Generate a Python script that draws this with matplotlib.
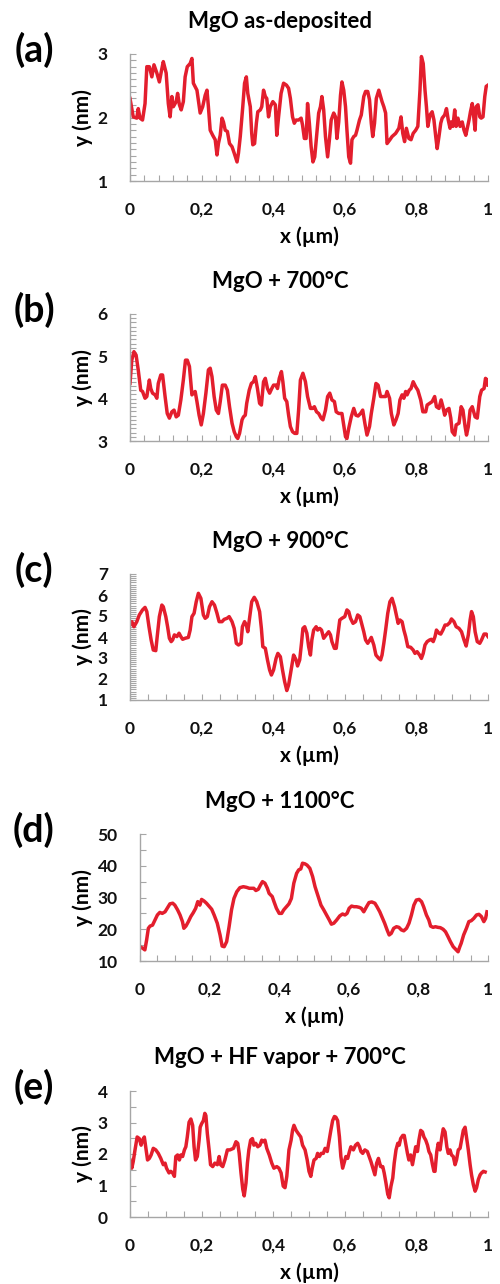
import numpy as np
import matplotlib.pyplot as plt
from matplotlib.ticker import MultipleLocator, FuncFormatter

# -------------------------------
# Profile data (x in µm, y in nm)
# -------------------------------
x_a = [0, .009, .019, .023, .028, .035, .042, .047, .054, .061, .067, .075, .082, .089, .093, .101,
       .107, .112, .117, .121, .129, .133, .138, .143, .149, .154, .160, .168, .173, .177, .187, .196,
       .203, .210, .215, .219, .224, .231, .238, .243, .247, .252, .257, .261, .266, .272, .278, .285,
       .291, .299, .303, .308, .315, .320, .325, .329, .336, .340, .343, .348, .353, .357, .364, .368,
       .373, .378, .382, .387, .392, .399, .406, .410, .415, .422, .429, .437, .443, .448, .454, .459,
       .464, .471, .478, .482, .487, .492, .496, .501, .506, .511, .516, .522, .527, .532, .536, .541,
       .546, .552, .557, .562, .569, .574, .578, .583, .588, .592, .597, .602, .606, .611, .616, .620,
       .625, .630, .634, .641, .646, .653, .658, .664, .669, .674, .678, .683, .688, .695, .700, .704,
       .709, .714, .718, .726, .732, .742, .751, .757, .762, .767, .772, .779, .785, .791, .798, .804,
       .810, .814, .819, .824, .828, .832, .838, .844, .849, .854, .858, .863, .868, .872, .879, .884,
       .889, .894, .897, .902, .907, .911, .916, .922, .928, .933, .938, .942, .947, .951, .956, .959,
       .964, .967, .972, .977, .981, .986, .991, .995, 1.0]
y_a = [2.30, 2.01, 1.99, 2.14, 1.99, 1.96, 2.22, 2.80, 2.80, 2.64, 2.83, 2.70, 2.56, 2.77, 2.88, 2.70,
       2.22, 2.01, 2.33, 2.17, 2.25, 2.38, 2.20, 2.12, 2.25, 2.64, 2.80, 2.85, 2.93, 2.54, 2.43, 2.07,
       2.17, 2.35, 2.43, 2.17, 1.80, 1.72, 1.65, 1.41, 1.59, 1.72, 1.99, 1.93, 1.80, 1.78, 1.59, 1.54,
       1.44, 1.30, 1.44, 1.70, 2.17, 2.54, 2.64, 2.38, 2.17, 1.75, 1.57, 1.59, 1.91, 2.09, 2.12, 2.17,
       2.43, 2.33, 2.30, 2.01, 2.17, 2.25, 2.20, 1.72, 2.01, 2.38, 2.54, 2.51, 2.46, 2.30, 2.01, 1.91,
       1.96, 1.96, 1.99, 1.88, 1.67, 1.67, 2.22, 1.91, 1.54, 1.30, 1.38, 1.75, 2.07, 2.17, 2.33, 2.12,
       1.70, 1.38, 1.65, 1.96, 2.07, 2.01, 1.67, 1.93, 2.35, 2.56, 2.43, 2.17, 1.80, 1.38, 1.28, 1.65,
       1.70, 1.72, 1.80, 1.96, 2.04, 2.33, 2.41, 2.41, 2.28, 1.91, 1.70, 1.91, 2.30, 2.43, 2.33, 2.25,
       2.17, 2.07, 1.59, 1.65, 1.70, 1.75, 1.83, 2.01, 1.75, 1.62, 1.83, 1.67, 1.65, 1.75, 1.80, 1.86,
       2.43, 2.96, 2.85, 2.43, 2.17, 1.86, 2.04, 2.09, 1.96, 1.70, 1.51, 1.70, 1.91, 1.99, 2.04, 2.14,
       1.96, 1.83, 1.93, 1.86, 2.12, 1.86, 1.99, 1.86, 1.93, 1.80, 1.72, 1.83, 1.96, 2.09, 2.22, 2.07,
       1.80, 2.17, 2.20, 2.01, 1.99, 2.01, 2.33, 2.49, 2.51]

x_b = [0, .005, .011, .017, .023, .030, .035, .042, .047, .051, .054, .058, .063, .070, .075, .079,
       .086, .091, .098, .104, .110, .117, .123, .129, .135, .142, .149, .155, .160, .166, .173, .177,
       .182, .187, .193, .199, .205, .212, .219, .224, .229, .235, .241, .247, .252, .258, .266, .272,
       .278, .285, .291, .297, .301, .306, .313, .317, .322, .326, .333, .339, .345, .350, .356, .362,
       .367, .373, .378, .384, .390, .396, .401, .408, .412, .417, .423, .427, .432, .438, .443, .448,
       .454, .460, .466, .471, .476, .483, .490, .496, .504, .510, .515, .521, .527, .534, .539, .546,
       .552, .558, .564, .571, .576, .583, .592, .602, .606, .611, .618, .625, .631, .637, .644, .650,
       .656, .662, .669, .674, .681, .687, .693, .700, .706, .714, .718, .725, .730, .737, .743, .749,
       .754, .760, .765, .770, .774, .780, .785, .791, .798, .804, .812, .818, .826, .830, .837, .844,
       .851, .856, .863, .869, .874, .879, .884, .891, .896, .900, .907, .911, .919, .925, .930, .936,
       .940, .945, .950, .956, .964, .970, .977, .982, .989, .993, .998, 1.0]
y_b = [4.36, 4.91, 5.11, 5.03, 4.68, 4.20, 4.17, 4.01, 4.05, 4.28, 4.44, 4.24, 4.13, 4.09, 4.01, 4.36,
       4.56, 4.56, 4.05, 3.65, 3.54, 3.69, 3.73, 3.57, 3.61, 3.97, 4.44, 4.91, 4.91, 4.76, 4.09, 4.13,
       4.17, 3.93, 3.61, 3.38, 3.65, 4.13, 4.68, 4.72, 4.52, 4.05, 3.73, 3.65, 3.93, 4.32, 4.32, 4.20,
       3.81, 3.42, 3.22, 3.10, 3.06, 3.18, 3.50, 3.57, 3.61, 3.89, 4.20, 4.36, 4.40, 4.52, 4.24, 3.89,
       3.85, 4.40, 4.48, 4.24, 4.13, 4.24, 4.32, 4.32, 4.24, 4.48, 4.64, 4.40, 4.01, 3.93, 3.61, 3.34,
       3.22, 3.18, 3.18, 3.73, 4.44, 4.60, 4.40, 4.05, 3.77, 3.77, 3.81, 3.69, 3.65, 3.54, 3.50, 3.73,
       4.05, 4.13, 3.97, 3.93, 3.69, 3.65, 3.65, 3.10, 3.06, 3.30, 3.57, 3.77, 3.61, 3.59, 3.65, 3.73,
       3.42, 3.14, 3.34, 3.65, 4.01, 4.36, 4.32, 4.05, 4.05, 4.05, 4.17, 4.01, 3.65, 3.38, 3.50, 3.65,
       3.97, 4.09, 4.01, 4.17, 4.09, 4.20, 4.24, 4.40, 4.28, 4.20, 3.97, 3.69, 3.69, 3.85, 3.89, 3.93,
       4.05, 3.81, 3.77, 3.97, 3.81, 3.61, 3.73, 3.77, 3.54, 3.22, 3.14, 3.38, 3.42, 3.81, 3.73, 3.34,
       3.14, 3.34, 3.73, 3.81, 3.57, 3.54, 4.05, 4.20, 4.24, 4.48, 4.44, 4.32]

x_c = [0, .005, .011, .019, .026, .035, .042, .047, .053, .059, .065, .072, .076, .082, .089, .093,
       .100, .105, .110, .115, .119, .124, .131, .137, .142, .147, .154, .163, .168, .173, .179, .185,
       .191, .198, .205, .210, .216, .222, .229, .236, .243, .249, .257, .263, .271, .277, .285, .291,
       .297, .303, .310, .314, .320, .325, .329, .334, .340, .347, .354, .362, .367, .371, .378, .384,
       .390, .395, .401, .408, .413, .420, .426, .432, .438, .443, .450, .457, .464, .468, .474, .479,
       .483, .488, .494, .499, .504, .508, .513, .520, .524, .530, .535, .541, .548, .555, .560, .564,
       .571, .576, .580, .586, .592, .600, .606, .611, .616, .623, .630, .636, .642, .648, .653, .658,
       .664, .670, .674, .681, .687, .695, .700, .704, .709, .714, .720, .726, .732, .739, .744, .749,
       .754, .760, .765, .770, .776, .784, .791, .796, .802, .809, .814, .819, .824, .830, .837, .842,
       .847, .852, .856, .863, .868, .874, .880, .886, .893, .898, .905, .911, .919, .926, .933, .939,
       .945, .950, .954, .959, .964, .970, .977, .982, .989, .995, 1.0]
y_c = [4.57, 4.73, 4.49, 4.73, 5.05, 5.29, 5.41, 5.21, 4.49, 3.86, 3.38, 3.35, 4.02, 4.97, 5.52, 5.44,
       4.97, 4.49, 3.94, 3.78, 3.86, 4.10, 4.02, 4.18, 4.02, 3.89, 3.94, 3.98, 4.33, 4.97, 5.13, 5.68,
       6.08, 5.84, 5.05, 4.89, 4.97, 5.44, 5.68, 5.52, 5.13, 4.73, 4.73, 4.84, 4.89, 4.97, 4.73, 4.41,
       3.70, 3.62, 3.70, 4.49, 4.73, 4.57, 4.25, 4.89, 5.68, 5.89, 5.68, 5.21, 4.41, 3.54, 3.46, 2.91,
       2.43, 2.19, 2.43, 2.98, 3.22, 3.06, 2.43, 1.87, 1.45, 1.71, 2.43, 3.14, 2.91, 2.62, 2.91, 3.70,
       4.41, 4.49, 4.18, 3.54, 3.14, 3.86, 4.33, 4.49, 4.33, 4.41, 4.33, 3.94, 4.10, 4.25, 4.10, 3.78,
       3.46, 3.46, 4.02, 4.81, 4.89, 4.97, 5.29, 5.21, 4.89, 4.65, 4.73, 5.05, 4.97, 4.57, 4.25, 3.86,
       3.70, 3.86, 3.98, 3.62, 3.14, 2.98, 2.91, 3.14, 3.70, 4.33, 5.13, 5.68, 5.84, 5.44, 5.05, 4.65,
       4.81, 4.73, 4.33, 4.02, 3.54, 3.51, 3.38, 3.22, 3.30, 3.14, 2.98, 3.22, 3.62, 3.78, 3.86, 3.89,
       3.78, 4.02, 4.33, 4.18, 4.14, 4.33, 4.57, 4.57, 4.68, 4.86, 4.73, 4.49, 4.41, 4.25, 3.86, 3.57,
       4.10, 4.81, 5.21, 4.97, 4.25, 3.78, 3.70, 3.86, 4.14, 4.14, 4.02]

x_d = [0, .008, .014, .019, .024, .029, .036, .043, .050, .057, .064, .072, .078, .086, .094, .100,
       .108, .115, .122, .126, .132, .139, .146, .153, .160, .166, .172, .177, .184, .191, .198, .206,
       .213, .222, .230, .236, .242, .249, .256, .263, .270, .278, .287, .297, .306, .314, .321, .327,
       .333, .340, .346, .352, .359, .366, .371, .380, .385, .392, .400, .407, .413, .421, .428, .435,
       .442, .450, .456, .462, .467, .474, .480, .488, .496, .503, .512, .520, .528, .536, .544, .550,
       .557, .565, .574, .582, .589, .595, .601, .608, .615, .622, .630, .636, .643, .651, .658, .666,
       .675, .681, .689, .697, .703, .710, .716, .722, .729, .737, .744, .751, .758, .766, .773, .780,
       .787, .794, .802, .809, .815, .823, .830, .835, .842, .849, .856, .863, .871, .878, .885, .892,
       .900, .907, .914, .919, .923, .930, .938, .945, .952, .959, .967, .974, .981, .988, .993, .997]
y_d = [14.5, 14.0, 13.5, 16.6, 20.3, 21.0, 21.3, 22.9, 24.5, 25.3, 25.0, 25.5, 26.6, 28.0, 28.2, 27.6,
       26.1, 24.5, 22.4, 20.3, 21.0, 22.4, 24.0, 25.2, 26.6, 28.7, 27.6, 29.4, 28.9, 28.2, 27.3, 26.3,
       24.5, 21.9, 18.2, 14.7, 14.5, 16.1, 20.8, 26.1, 29.7, 31.8, 33.1, 33.4, 33.2, 32.9, 32.9, 32.9,
       32.2, 32.6, 33.9, 35.0, 34.5, 32.9, 31.3, 30.3, 28.7, 26.6, 25.0, 25.0, 26.1, 27.1, 28.0, 29.7,
       34.5, 37.6, 38.7, 39.0, 40.8, 40.6, 40.2, 39.2, 36.6, 33.4, 30.3, 27.6, 26.1, 24.5, 22.9, 21.6,
       21.9, 22.9, 24.2, 24.8, 24.5, 25.0, 26.6, 27.3, 27.1, 27.1, 26.9, 26.6, 25.5, 27.1, 28.4, 28.6,
       28.2, 27.1, 25.5, 23.4, 21.9, 19.8, 18.2, 18.7, 20.3, 20.8, 20.6, 19.8, 19.5, 20.3, 21.9, 24.5,
       27.6, 29.2, 29.4, 28.7, 27.1, 24.5, 22.9, 21.0, 20.6, 20.8, 20.6, 20.5, 20.0, 19.2, 17.7, 16.1,
       14.5, 13.7, 12.9, 14.5, 15.6, 18.2, 20.3, 22.4, 22.7, 23.4, 24.5, 24.7, 24.0, 22.4, 23.4, 25.5]

x_e = [0, .005, .009, .014, .020, .026, .031, .035, .040, .045, .049, .054, .059, .065, .072, .079,
       .086, .093, .098, .102, .109, .114, .119, .124, .128, .133, .138, .142, .147, .152, .156, .160,
       .165, .170, .175, .179, .183, .188, .193, .196, .200, .205, .209, .212, .216, .221, .225, .231,
       .237, .244, .249, .253, .259, .265, .272, .279, .289, .296, .301, .305, .310, .315, .319, .324,
       .328, .332, .337, .342, .346, .351, .357, .363, .368, .372, .377, .382, .389, .396, .402, .410,
       .416, .422, .428, .433, .438, .444, .450, .454, .458, .464, .470, .477, .482, .489, .495, .500,
       .505, .509, .514, .520, .524, .529, .534, .540, .545, .551, .557, .561, .566, .571, .575, .580,
       .585, .589, .594, .599, .603, .608, .613, .617, .624, .630, .636, .641, .645, .650, .656, .663,
       .668, .673, .680, .684, .689, .694, .700, .706, .710, .715, .720, .724, .729, .734, .738, .743,
       .748, .752, .756, .762, .766, .770, .775, .779, .784, .789, .793, .798, .803, .807, .812, .817,
       .821, .826, .831, .835, .840, .845, .849, .852, .857, .861, .866, .871, .875, .880, .885, .889,
       .894, .898, .903, .908, .912, .917, .922, .926, .931, .936, .940, .945, .950, .954, .959, .964,
       .968, .973, .978, .982, .987, .992]
y_e = [1.81, 1.55, 1.76, 2.13, 2.54, 2.49, 2.28, 2.44, 2.54, 2.13, 1.81, 1.86, 1.97, 2.18, 2.13, 2.02,
       1.86, 1.66, 1.71, 1.55, 1.40, 1.45, 1.40, 1.29, 1.92, 1.97, 1.81, 1.97, 1.92, 2.13, 2.23, 2.54,
       3.01, 3.11, 2.91, 2.23, 1.81, 1.92, 2.44, 2.85, 2.96, 3.06, 3.29, 3.22, 2.65, 2.13, 1.66, 1.60,
       1.71, 1.66, 1.92, 1.66, 1.60, 1.81, 2.13, 2.13, 2.18, 2.39, 2.34, 2.02, 1.40, 0.88, 0.67, 1.08,
       1.71, 2.13, 2.44, 2.49, 2.28, 2.34, 2.23, 2.28, 2.44, 2.39, 2.44, 2.18, 1.97, 1.71, 1.55, 1.60,
       1.55, 1.40, 0.98, 0.93, 1.29, 2.13, 2.44, 2.75, 2.91, 2.75, 2.65, 2.54, 2.28, 2.13, 1.81, 1.45,
       1.29, 1.55, 1.81, 1.86, 2.02, 1.92, 2.02, 2.02, 2.18, 2.08, 2.49, 2.75, 3.06, 3.19, 3.17, 3.06,
       2.54, 1.92, 1.55, 1.76, 1.92, 1.86, 2.08, 2.23, 2.13, 2.28, 2.34, 2.23, 2.08, 2.02, 2.13, 2.08,
       1.92, 1.76, 1.50, 1.34, 1.71, 1.86, 1.60, 1.60, 1.40, 1.08, 0.72, 0.61, 0.98, 1.24, 1.71, 2.13,
       2.34, 2.28, 2.49, 2.59, 2.59, 2.34, 2.02, 1.81, 1.97, 1.66, 1.92, 2.23, 2.08, 2.44, 2.75, 2.70,
       2.54, 2.44, 2.28, 2.08, 1.97, 1.66, 1.45, 1.45, 2.08, 2.34, 2.13, 2.54, 2.80, 2.70, 2.23, 2.02,
       2.13, 1.97, 1.92, 1.66, 1.81, 2.13, 2.18, 2.44, 2.75, 2.85, 2.54, 2.13, 1.66, 1.34, 1.03, 0.82,
       0.93, 1.19, 1.34, 1.40, 1.45, 1.43]

titles = ["MgO as-deposited", "MgO + 700°C", "MgO + 900°C", "MgO + 1100°C", "MgO + HF vapor + 700°C"]
letters = ["(a)", "(b)", "(c)", "(d)", "(e)"]
ylims = [(1, 3), (3, 6), (1, 7), (10, 50), (0, 4)]
y_major = [1, 1, 1, 10, 1]
y_minor = [0.1, 0.1, 0.1, 5, 0.5]
x_minor = [0.04, 0.04, 0.05, 0.05, 0.05]

# -------------------------------
# Figure layout (pixel boxes of each panel: left, top, right, bottom)
# -------------------------------
W, H = 500, 1284
boxes = [(130, 54, 488, 181), (130, 314, 488, 441), (130, 574, 488, 700),
         (140, 834, 488, 961), (130, 1091, 488, 1217)]

plt.rcParams['font.family'] = ['Lato', 'DejaVu Sans']
plt.rcParams['font.weight'] = 'bold'

red = '#e31e2d'
grey = '#a6a6a6'
comma = FuncFormatter(lambda v, p: ('%g' % round(v, 6)).replace('.', ','))

fig = plt.figure(figsize=(W / 100, H / 100), dpi=100)
data = [(x_a, y_a), (x_b, y_b), (x_c, y_c), (x_d, y_d), (x_e, y_e)]

for i, (x, y) in enumerate(data):
    l, t, r, b = boxes[i]
    ax = fig.add_axes([l / W, 1 - b / H, (r - l) / W, (b - t) / H])
    ax.plot(x, y, color=red, lw=2.5, solid_joinstyle='round')
    ax.set_xlim(0, 1)
    ax.set_ylim(*ylims[i])

    for side in ['top', 'right']:
        ax.spines[side].set_visible(False)
    for side in ['left', 'bottom']:
        ax.spines[side].set_color(grey)
        ax.spines[side].set_linewidth(1.0)

    ax.xaxis.set_major_locator(MultipleLocator(0.2))
    ax.xaxis.set_minor_locator(MultipleLocator(x_minor[i]))
    ax.yaxis.set_major_locator(MultipleLocator(y_major[i]))
    ax.yaxis.set_minor_locator(MultipleLocator(y_minor[i]))
    ax.xaxis.set_major_formatter(comma)
    ax.yaxis.set_major_formatter(comma)
    ax.tick_params(which='both', direction='in', color=grey, width=0.8, length=4,
                   labelsize=12.5, labelcolor='#111111')
    ax.tick_params(axis='x', which='major', pad=15)
    ax.tick_params(axis='y', which='major', pad=16)

    ax.set_xlabel("x (µm)", fontsize=15, fontweight='bold', labelpad=6)
    ax.set_ylabel("y (nm)", fontsize=15, fontweight='bold', labelpad=3)

    fig.text(280 / W, 1 - (t - 33) / H, titles[i], ha='center', va='center',
             fontsize=16, fontweight='bold')
    fig.text(34 / W, 1 - (t - 4) / H, letters[i], ha='center', va='center',
             fontsize=27, fontweight='bold')

fig.savefig('out.png', dpi=100)
